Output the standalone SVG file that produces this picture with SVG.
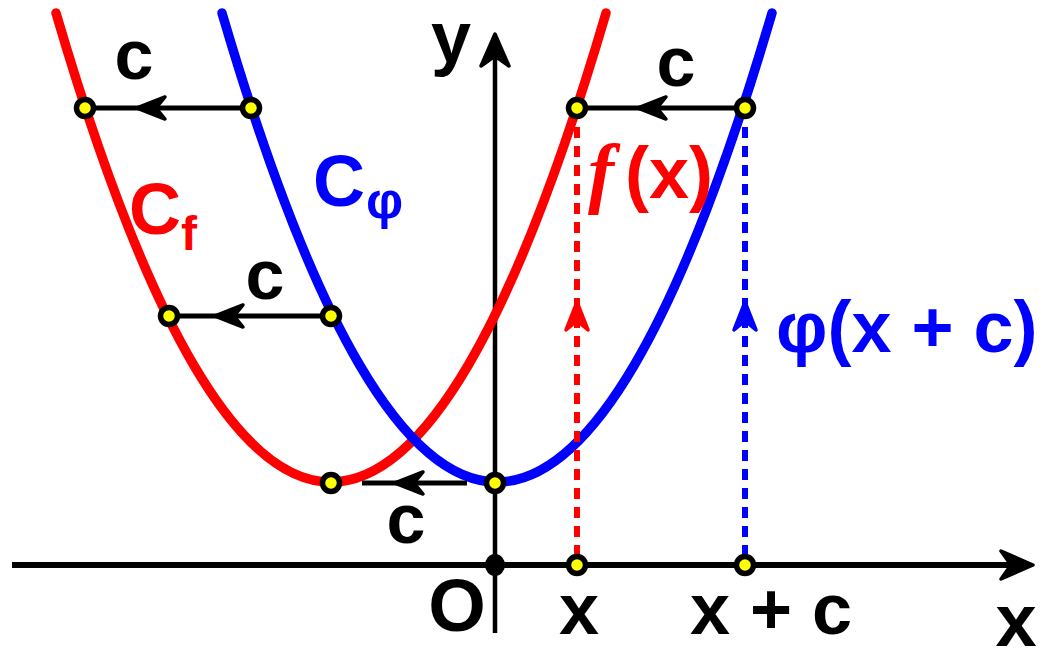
<svg xmlns="http://www.w3.org/2000/svg" xmlns:xlink="http://www.w3.org/1999/xlink" width="1051" height="649" viewBox="0 0 1051 649">
  <style>
    .axis { stroke: #000; fill: none; }
    .curve { fill: none; stroke-width: 9.5; stroke-linecap: round; }
    .red { stroke: #ff0000; }
    .blue { stroke: #0000ff; }
    .shift { stroke: #000; stroke-width: 5; fill: none; }
    .dash { stroke-width: 6; stroke-dasharray: 11 8; fill: none; }
    .pt { fill: #ffff00; stroke: #000; stroke-width: 5.5; }
    .lbl { font-family: "Liberation Sans", Arial, sans-serif; font-weight: bold; font-size: 72px; }
    .k { fill: #000; }
    .r { fill: #ff0000; }
    .b { fill: #0000ff; }
  </style>
  <defs>
    <path id="ah" d="M0,0 L28,-11 L19,0 L28,11 Z" stroke-width="3.5" stroke-linejoin="round"/>
    <path id="ahBig" d="M0,0 L32,-14 L22,0 L32,14 Z" stroke-width="3.5" stroke-linejoin="round"/>
  </defs>

  <g id="axes">
    <line class="axis" x1="12" y1="565" x2="1020" y2="565" stroke-width="6"/>
    <use href="#ahBig" transform="translate(1033,565) rotate(180)" fill="#000" stroke="#000"/>
    <line class="axis" x1="495" y1="633" x2="495" y2="50" stroke-width="4.5"/>
    <use href="#ahBig" transform="translate(495,34) rotate(90)" fill="#000" stroke="#000"/>
  </g>

  <g id="curve-Cf">
    <path class="curve red" d="M56,13 Q331,951 606,13"/>
  </g>
  <g id="curve-Cphi">
    <path class="curve blue" d="M222,13 Q497,951 772,13"/>
  </g>

  <g id="connectors">
    <line class="dash red" x1="577" y1="556" x2="577" y2="120"/>
    <use href="#ah" transform="translate(577,302) rotate(90)" fill="#ff0000" stroke="#ff0000"/>
    <line class="dash blue" x1="745" y1="556" x2="745" y2="120"/>
    <use href="#ah" transform="translate(745,302) rotate(90)" fill="#0000ff" stroke="#0000ff"/>

    <line class="shift" x1="251" y1="108" x2="85" y2="108"/>
    <use href="#ah" transform="translate(137,108)" fill="#000" stroke="#000"/>
    <line class="shift" x1="745" y1="108" x2="577" y2="108"/>
    <use href="#ah" transform="translate(638,108)" fill="#000" stroke="#000"/>
    <line class="shift" x1="331" y1="316" x2="169" y2="316"/>
    <use href="#ah" transform="translate(215,316)" fill="#000" stroke="#000"/>
    <line class="shift" x1="467" y1="483" x2="362" y2="483"/>
    <use href="#ah" transform="translate(395,483)" fill="#000" stroke="#000"/>
  </g>

  <g id="points">
    <circle class="pt" cx="85" cy="108" r="8.5"/>
    <circle class="pt" cx="251" cy="108" r="8.5"/>
    <circle class="pt" cx="577" cy="108" r="8.5"/>
    <circle class="pt" cx="745" cy="108" r="8.5"/>
    <circle class="pt" cx="169" cy="316" r="8.5"/>
    <circle class="pt" cx="331" cy="316" r="8.5"/>
    <circle class="pt" cx="331" cy="483" r="8.5"/>
    <circle class="pt" cx="495" cy="483" r="8.5"/>
    <circle class="pt" cx="577" cy="565" r="8.5"/>
    <circle class="pt" cx="745" cy="565" r="8.5"/>
    <ellipse cx="495" cy="565" rx="10" ry="11" fill="#000"/>
  </g>

  <g id="labels" class="lbl">
    <text class="k" x="134" y="79" text-anchor="middle" font-size="70">c</text>
    <text class="k" x="676" y="86" text-anchor="middle" font-size="70">c</text>
    <text class="k" x="265" y="299" text-anchor="middle" font-size="70">c</text>
    <text class="k" x="406" y="543" text-anchor="middle" font-size="70">c</text>
    <text class="r" x="129" y="234">C<tspan x="181" y="250" font-size="48">f</tspan></text>
    <text class="b" x="313" y="206">C<tspan x="366" y="218" font-size="52">φ</tspan></text>
    <text class="r" x="588" y="198"><tspan font-family="Liberation Serif, serif" font-style="italic" font-size="78">f</tspan><tspan x="625">(x)</tspan></text>
    <text class="b" x="776" y="352">φ(x + c)</text>
    <text class="k" x="451" y="62" text-anchor="middle" font-size="72">y</text>
    <text class="k" x="457" y="631" text-anchor="middle" font-size="74">O</text>
    <text class="k" x="579" y="634" text-anchor="middle" font-size="72">x</text>
    <text class="k" x="771" y="634" text-anchor="middle" font-size="72">x + c</text>
    <text class="k" x="1016" y="646" text-anchor="middle" font-size="74">x</text>
  </g>
</svg>
